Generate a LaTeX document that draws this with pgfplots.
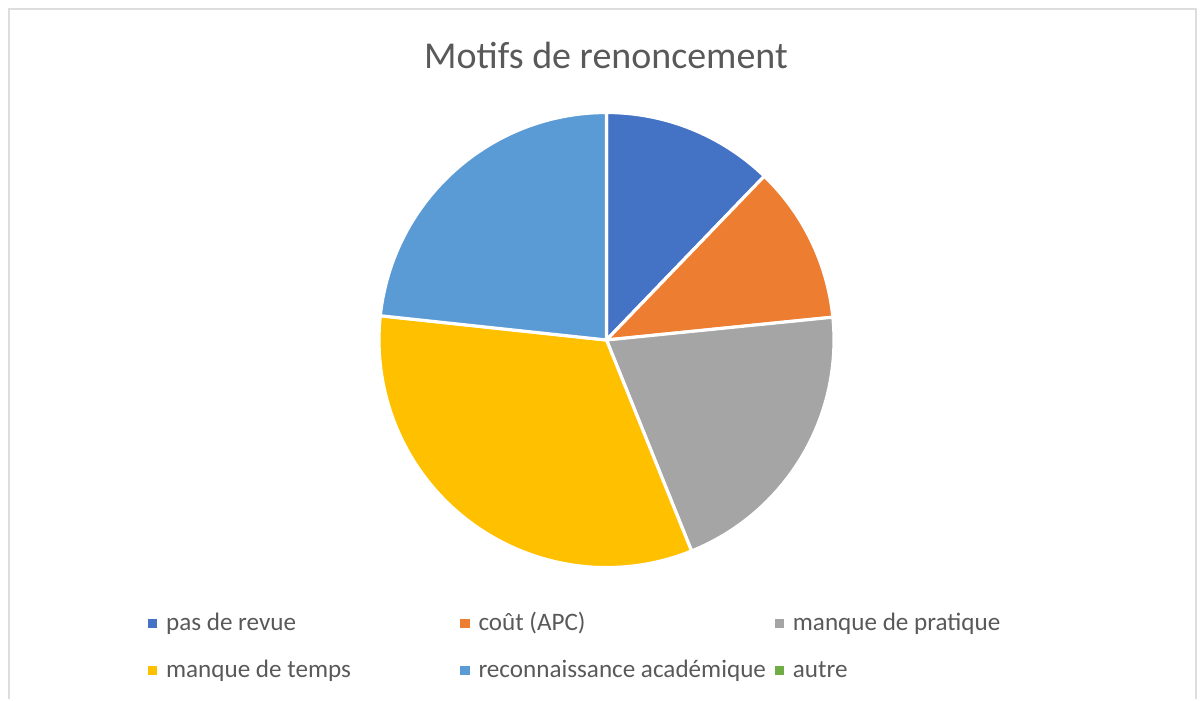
\documentclass[border=0pt]{standalone}
\usepackage{fontspec}
\setmainfont{Carlito}
\usepackage{pgfplots}
\pgfplotsset{compat=1.18}
\usepackage{pgfplotstable}

\definecolor{c1}{HTML}{4472C4}
\definecolor{c2}{HTML}{ED7D31}
\definecolor{c3}{HTML}{A5A5A5}
\definecolor{c4}{HTML}{FFC000}
\definecolor{c5}{HTML}{5B9BD5}
\definecolor{c6}{HTML}{70AD47}
\definecolor{txt}{HTML}{595959}
\definecolor{frame}{HTML}{DDDDDD}

% share of each reason, in percent
\pgfplotstableread{
value
12.2
11.2
20.5
32.8
23.3
0
}\motifs

% pie centre and radius (axis units are pixels, 1 px = 0.01 cm)
\def\cx{606.5}
\def\cy{359}
\def\rad{2.275cm}

\newcommand\slice[2]{%
  \fill[#2, draw=white, line width=0.9pt, line join=round]
    (axis cs:\cx,\cy) -- ++(\csname start#1\endcsname:\rad)
    arc[start angle=\csname start#1\endcsname,
        end angle=\csname end#1\endcsname, radius=\rad] -- cycle;}

\newcommand\legsq[1]{%
  \addlegendimage{legend image code/.code={%
    \fill[#1] (0,-0.04cm) rectangle (0.08cm,0.04cm);
    \path (0.17cm,0);}}}

\begin{document}
\begin{tikzpicture}
% clockwise from the top, as cumulative angles
\def\cum{0}
\pgfplotsforeachungrouped \i in {0,...,4}{%
  \pgfplotstablegetelem{\i}{value}\of\motifs
  \pgfmathsetmacro\tmpA{90-3.6*\cum}
  \pgfmathsetmacro\cum{\cum+\pgfplotsretval}
  \pgfmathsetmacro\tmpB{90-3.6*\cum}
  \expandafter\xdef\csname start\i\endcsname{\tmpA}
  \expandafter\xdef\csname end\i\endcsname{\tmpB}
}
\begin{axis}[
  scale only axis, width=12cm, height=6.99cm,
  xmin=0, xmax=1200, ymin=0, ymax=699,
  hide axis, clip=false,
  legend columns=3, legend cell align=left,
  legend style={
    at={(axis cs:147,89)}, anchor=north west,
    draw=none, fill=none, inner sep=0pt,
    font=\fontsize{7.15}{8}\selectfont, text=txt,
    column sep=0pt, row sep=0.21cm,
    nodes={inner sep=0pt, text height=0.2cm, text depth=0.06cm},
  },
]
\path (axis cs:0,0) rectangle (axis cs:1200,699);
\draw[frame, line width=0.57pt] (axis cs:9,0) -- (axis cs:9,690)
  -- (axis cs:1196,690) -- (axis cs:1196,0);

\legsq{c1}\addlegendentry{\makebox[2.94cm][l]{pas de revue}}
\legsq{c2}\addlegendentry{\makebox[2.96cm][l]{coût (APC)}}
\legsq{c3}\addlegendentry{manque de pratique}
\legsq{c4}\addlegendentry{\makebox[2.94cm][l]{manque de temps}}
\legsq{c5}\addlegendentry{\makebox[2.96cm][l]{reconnaissance académique}}
\legsq{c6}\addlegendentry{autre}

\slice{0}{c1}
\slice{1}{c2}
\slice{2}{c3}
\slice{3}{c4}
\slice{4}{c5}

\node[font=\fontsize{10.8}{13}\selectfont, text=txt, anchor=base]
  at (axis cs:606,631) {Motifs de renoncement};
\end{axis}
\end{tikzpicture}
\end{document}
